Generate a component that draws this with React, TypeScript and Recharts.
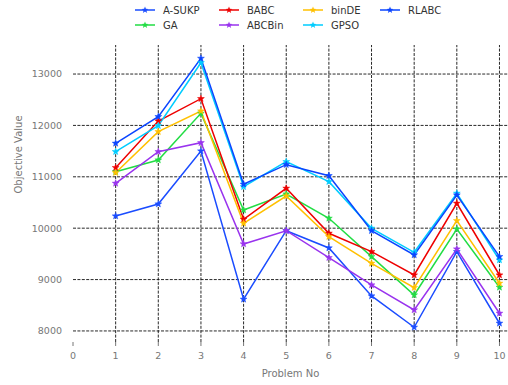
import { Line, LineChart, ReferenceLine, XAxis, YAxis } from "recharts";

const problems = [1, 2, 3, 4, 5, 6, 7, 8, 9, 10];
const xTicks = [0, 1, 2, 3, 4, 5, 6, 7, 8, 9, 10];
const yTicks = [8000, 9000, 10000, 11000, 12000, 13000];

const aSukp = [10237, 10470, 11502, 8617, 9951, 9615, 8681, 8072, 9543, 8150];
const ga = [11100, 11327, 12235, 10354, 10665, 10193, 9446, 8700, 9984, 8850];
const babc = [11178, 12086, 12520, 10173, 10776, 9901, 9543, 9089, 10484, 9089];
const abcBin = [10873, 11489, 11663, 9693, 9951, 9426, 8895, 8409, 9595, 8344];
const binDE = [11080, 11878, 12280, 10095, 10626, 9835, 9317, 8843, 10146, 8928];
const gpso = [11489, 11995, 13220, 10807, 11294, 10905, 9998, 9531, 10679, 9381];
const rlabc = [11652, 12170, 13305, 10854, 11236, 11022, 9951, 9479, 10646, 9446];

// draw order (last on top), same as legend column-major order
const series = [
  { key: "A-SUKP", values: aSukp, color: "#1a4cff" },
  { key: "GA", values: ga, color: "#22dd44" },
  { key: "BABC", values: babc, color: "#ee0000" },
  { key: "ABCBin", values: abcBin, color: "#9933ee" },
  { key: "binDE", values: binDE, color: "#ffc000" },
  { key: "GPSO", values: gpso, color: "#00ccff" },
  { key: "RLABC", values: rlabc, color: "#0a44ff" },
];

const data = problems.map((p, i) => {
  const row: Record<string, number> = { x: p };
  series.forEach((s) => (row[s.key] = s.values[i]));
  return row;
});

function starPath(cx: number, cy: number, ro: number, ri: number) {
  let d = "";
  for (let i = 0; i < 10; i++) {
    const r = i % 2 === 0 ? ro : ri;
    const a = -Math.PI / 2 + (i * Math.PI) / 5;
    d += (i === 0 ? "M" : "L") + (cx + r * Math.cos(a)).toFixed(2) + "," + (cy + r * Math.sin(a)).toFixed(2);
  }
  return d + "Z";
}

const StarDot = (color: string) => (props: any) => {
  const { cx, cy, index } = props;
  if (cx == null || cy == null) return <g key={index} />;
  return <path key={index} d={starPath(cx, cy, 3.6, 1.5)} fill={color} stroke={color} strokeWidth={0.5} />;
};

// legend: 4 columns, column-major
const legendPos = [
  { col: 0, row: 0 },
  { col: 0, row: 1 },
  { col: 1, row: 0 },
  { col: 1, row: 1 },
  { col: 2, row: 0 },
  { col: 2, row: 1 },
  { col: 3, row: 0 },
];
const colX = [135, 219, 303, 380];
const rowY = [10, 25];

const font = "'DejaVu Sans', sans-serif";
const grid = "#111";
const dash = "3 1.4";

export default function App() {
  return (
    <div style={{ position: "absolute", left: 0, top: 0, width: 508, height: 385, background: "#fff" }}>
      <LineChart width={508} height={385} data={data} margin={{ top: 45, right: 0, left: 0, bottom: 0 }}>
        {yTicks.map((v) => (
          <ReferenceLine key={"h" + v} y={v} stroke={grid} strokeDasharray={dash} strokeWidth={0.9} />
        ))}
        {problems.map((p) => (
          <ReferenceLine key={"v" + p} x={p} stroke={grid} strokeDasharray={dash} strokeWidth={0.9} />
        ))}
        <XAxis
          dataKey="x"
          type="number"
          domain={[0, 10.2]}
          ticks={xTicks}
          allowDataOverflow
          height={43}
          axisLine={false}
          tickLine={{ stroke: "#777" }}
          tickSize={4}
          tickMargin={6}
          tick={{ fill: "#777", fontSize: 9.5, fontFamily: font }}
          label={{ value: "Problem No", position: "insideBottom", offset: 8, fill: "#777", fontSize: 10, fontFamily: font }}
        />
        <YAxis
          type="number"
          domain={[7785, 13565]}
          ticks={yTicks}
          allowDataOverflow
          width={73}
          axisLine={false}
          tickLine={false}
          tickSize={0}
          tickMargin={11}
          tick={{ fill: "#777", fontSize: 9.5, fontFamily: font }}
          label={{ value: "Objective Value", angle: -90, position: "insideLeft", offset: 18, fill: "#777", fontSize: 10, fontFamily: font }}
        />
        {series.map((s) => (
          <Line
            key={s.key}
            dataKey={s.key}
            stroke={s.color}
            strokeWidth={1.5}
            dot={StarDot(s.color)}
            activeDot={false}
            isAnimationActive={false}
          />
        ))}
      </LineChart>
      <svg width={508} height={40} style={{ position: "absolute", left: 0, top: 0 }}>
        {series.map((s, i) => {
          const x = colX[legendPos[i].col];
          const y = rowY[legendPos[i].row];
          return (
            <g key={s.key}>
              <line x1={x} x2={x + 20} y1={y} y2={y} stroke={s.color} strokeWidth={1.5} />
              <path d={starPath(x + 10, y, 3.6, 1.5)} fill={s.color} />
              <text x={x + 28} y={y + 3.6} fontSize={10} fontFamily={font} fill="#333">
                {s.key}
              </text>
            </g>
          );
        })}
      </svg>
    </div>
  );
}
